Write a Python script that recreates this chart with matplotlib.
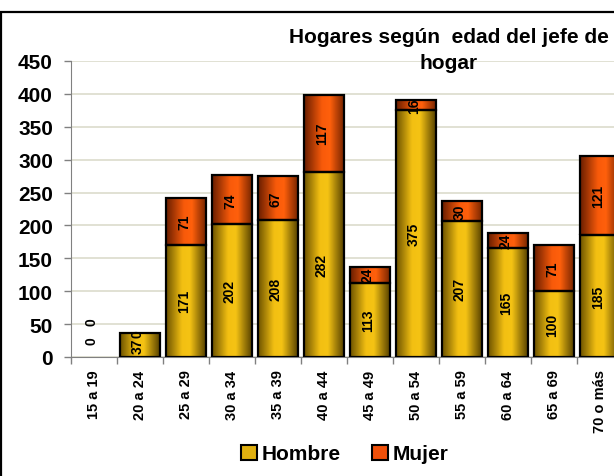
import numpy as np
import matplotlib
matplotlib.use("Agg")
import matplotlib.pyplot as plt
from matplotlib.colors import LinearSegmentedColormap
from matplotlib.patches import Patch, Rectangle

plt.rcParams["font.family"] = ["Liberation Sans", "DejaVu Sans"]
plt.rcParams["font.weight"] = "bold"

categories = ["15 a 19", "20 a 24", "25 a 29", "30 a 34", "35 a 39", "40 a 44",
              "45 a 49", "50 a 54", "55 a 59", "60 a 64", "65 a 69", "70 o más"]
hombre = [0, 37, 171, 202, 208, 282, 113, 375, 207, 165, 100, 185]
mujer = [0, 0, 71, 74, 67, 117, 24, 16, 30, 24, 71, 121]
series_names = ["Hombre", "Mujer"]
title = "Hogares según  edad del jefe de\nhogar"

cmap_h = LinearSegmentedColormap.from_list(
    "h", [(0, "#6e5400"), (0.4, "#f3c012"), (0.6, "#f5c314"), (1, "#5a4400")])
cmap_m = LinearSegmentedColormap.from_list(
    "m", [(0, "#6a1e00"), (0.45, "#f85a0a"), (0.65, "#ff600c"), (1, "#7a2600")])

W, H = 614, 477
fig = plt.figure(figsize=(W / 100, H / 100), dpi=100)
ax = fig.add_axes([71 / W, 1 - 358 / H, 552 / W, 296 / H])

x = np.arange(len(categories))
grad = np.linspace(0, 1, 64).reshape(1, -1)
width = 0.85


def draw_series(values, bottoms, cmap):
    bars = ax.bar(x, values, width, bottom=bottoms, facecolor="none",
                  edgecolor="black", linewidth=1.6, zorder=4)
    for bar, v in zip(bars, values):
        if v == 0:
            bar.set_linewidth(0)
            continue
        x0, y0 = bar.get_x(), bar.get_y()
        im = ax.imshow(grad, extent=[x0, x0 + bar.get_width(), y0, y0 + v],
                       aspect="auto", cmap=cmap, zorder=3, interpolation="bilinear")
        im.set_clip_path(bar)
    return bars


draw_series(hombre, [0] * len(x), cmap_h)
draw_series(mujer, hombre, cmap_m)

# data labels (zero segments at the very bottom get pushed up like Excel does)
for i in x:
    for k, (val, base) in enumerate([(hombre[i], 0), (mujer[i], hombre[i])]):
        if val == 0 and base == 0:
            pos, off = (i, 0), (-1.5, 12 + 14 * k)
        else:
            pos, off = (i, base + val / 2), (-1.5, 0)
        ax.annotate(str(val), pos, xytext=off, textcoords="offset points",
                    rotation=90, ha="center", va="center", fontsize=10,
                    fontweight="bold", zorder=6)

ax.set_xlim(-0.5, len(x) - 0.5)
ax.set_ylim(0, 450)
ax.set_yticks(np.arange(0, 451, 50))
ax.yaxis.grid(True, color="#dcdccc", linewidth=1.2)
ax.set_axisbelow(True)
ax.tick_params(axis="y", labelsize=15, length=5, width=1, color="#808080", pad=8)
for lab in ax.get_yticklabels():
    lab.set_fontweight("bold")

ax.set_xticks(x)
ax.set_xticklabels(categories, rotation=90, fontsize=10.5, fontweight="bold", va="top")
ax.set_xticks(np.arange(-0.5, len(x), 1), minor=True)
ax.tick_params(axis="x", which="major", length=0, pad=9)
ax.tick_params(axis="x", which="minor", length=5, width=1, color="#808080")

for s in ["top", "right"]:
    ax.spines[s].set_visible(False)
ax.spines["left"].set_color("#808080")
ax.spines["bottom"].set_color("#808080")

fig.text(449 / W, 1 - 28 / H, title, ha="center", va="top", fontsize=15,
         fontweight="bold", linespacing=1.45)

handles = [Patch(facecolor="#e0b010", edgecolor="black", linewidth=1.5),
           Patch(facecolor="#f0500a", edgecolor="black", linewidth=1.5)]
fig.legend(handles, series_names, loc="center", bbox_to_anchor=(345 / W, 1 - 455 / H),
           ncol=2, frameon=False, handlelength=0.75, handleheight=0.75,
           handletextpad=0.25, columnspacing=1.5,
           prop={"size": 15, "weight": "bold"})

fig.patches.append(Rectangle((1.5 / W, -0.2), 1.5, 1.2 - 12.5 / H,
                             transform=fig.transFigure, fill=False,
                             edgecolor="black", linewidth=1.6))

fig.savefig("out.png", dpi=100)
